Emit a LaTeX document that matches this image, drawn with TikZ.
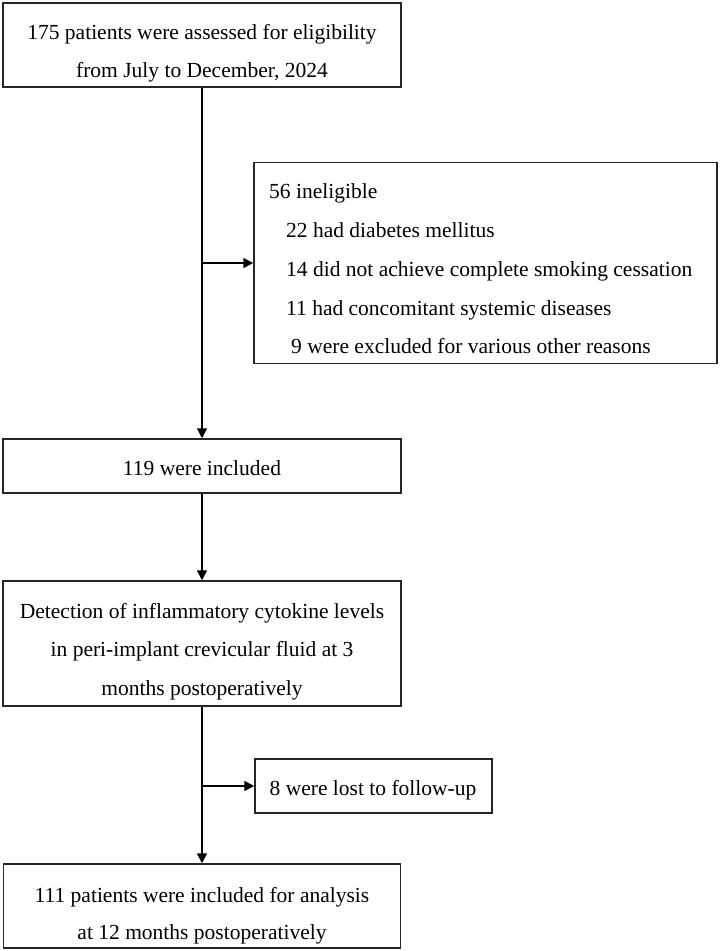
\documentclass[tikz,border=0pt]{standalone}
\usepackage{fontspec}
\setmainfont{Liberation Serif}
\usetikzlibrary{arrows.meta}
\begin{document}
\begin{tikzpicture}[x=1pt,y=-1pt,
  flowbox/.style={draw=black!85, line width=1.5pt, inner sep=0pt},
  txt/.style={inner sep=0pt, anchor=base, font=\fontsize{21.5}{39}\selectfont},
  ltxt/.style={txt, anchor=base west},
  conn/.style={line width=1.6pt, -{Triangle[length=10pt,width=10pt]}}]
\useasboundingbox (0,0) rectangle (720,951);
% boxes
\node[flowbox, minimum width=398pt, minimum height=84pt] (n1) at (202,45) {};
\node[flowbox, minimum width=463pt, minimum height=201pt] (n2) at (485.5,263) {};
\node[flowbox, minimum width=398pt, minimum height=54pt] (n3) at (202,466) {};
\node[flowbox, minimum width=398pt, minimum height=125pt] (n4) at (202,643.5) {};
\node[flowbox, minimum width=237pt, minimum height=54pt] (lost) at (373.5,786) {};
\node[flowbox, minimum width=397pt, minimum height=84pt] (n5) at (202,906) {};
% texts
\node[txt] (t1a) at (202,39) {175 patients were assessed for eligibility};
\node[txt] (t1b) at (202,77) {from July to December, 2024};
\node[ltxt] (t2a) at (269,198) {56 ineligible};
\node[ltxt] (t2b) at (286,237) {22 had diabetes mellitus};
\node[ltxt] (t2c) at (286,276) {14 did not achieve complete smoking cessation};
\node[ltxt] (t2d) at (286,315) {11 had concomitant systemic diseases};
\node[ltxt] (t2e) at (291,353) {9 were excluded for various other reasons};
\node[txt] (t3) at (202,475) {119 were included};
\node[txt] (t4a) at (202,618) {Detection of inflammatory cytokine levels};
\node[txt] (t4b) at (202,656) {in peri-implant crevicular fluid at 3};
\node[txt] (t4c) at (202,695) {months postoperatively};
\node[txt] (tl) at (373,795) {8 were lost to follow-up};
\node[txt] (t5a) at (202,902) {111 patients were included for analysis};
\node[txt] (t5b) at (202,939) {at 12 months postoperatively};
% connectors
\coordinate (b1) at (n1.south |- n2.west);
\coordinate (b2) at (n4.south |- lost.west);
\draw[conn] (n1.south) -- (n3.north);
\draw[conn] (b1) -- (n2.west);
\draw[conn] (n3.south) -- (n4.north);
\draw[conn] (n4.south) -- (n5.north);
\draw[conn] (b2) -- (lost.west);
\end{tikzpicture}
\end{document}
